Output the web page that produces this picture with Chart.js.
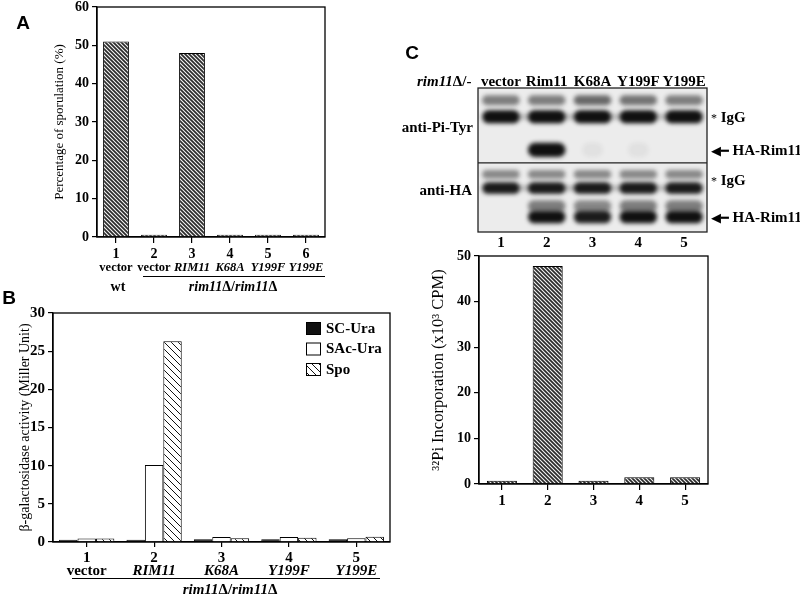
<!DOCTYPE html>
<html><head><meta charset="utf-8">
<script src="https://cdn.jsdelivr.net/npm/chart.js@4.4.1/dist/chart.umd.min.js"></script>
<style>
body{margin:0;width:800px;height:596px;position:relative;background:#fff;overflow:hidden;font-family:"Liberation Serif",serif;}
.c{position:absolute;}
.t{position:absolute;white-space:nowrap;color:#000;font-weight:bold;font-size:15px;line-height:1;transform:translate(-50%,-50%);}
.r{transform:translate(-100%,-50%);}
.l{transform:translate(0,-50%);}
.pl{position:absolute;font-family:"Liberation Sans",Arial,sans-serif;font-weight:bold;font-size:19px;line-height:1;transform:translate(-50%,-50%);}
.ln{position:absolute;height:1px;background:#000;}
i{font-style:italic;}
</style></head><body>

<div class="c" style="left:0;top:-5px;width:340px;height:305px"><canvas id="ca"></canvas></div>
<div class="c" style="left:0;top:290px;width:400px;height:306px"><canvas id="cb"></canvas></div>
<div class="c" style="left:400px;top:60px;width:400px;height:200px"><canvas id="blot"></canvas></div>
<div class="c" style="left:400px;top:240px;width:400px;height:356px"><canvas id="cc"></canvas></div>

<div class="pl" style="left:23px;top:22px">A</div>
<div class="pl" style="left:9px;top:297px">B</div>
<div class="pl" style="left:412px;top:52px">C</div>

<div class="ln" style="left:143px;top:276px;width:182px"></div>
<div class="t" style="left:118px;top:287px;font-size:14px">wt</div>
<div class="t" style="left:233px;top:287px;font-size:14px"><i>rim11</i>Δ/<i>rim11</i>Δ</div>

<div class="ln" style="left:72px;top:578px;width:308px"></div>
<div class="t" style="left:230px;top:589px;font-size:15px"><i>rim11</i>Δ/<i>rim11</i>Δ</div>

<div class="t l" style="left:417px;top:81px"><i>rim11</i>Δ/-</div>
<div class="t r" style="left:473px;top:127px">anti-Pi-Tyr</div>
<div class="t r" style="left:472px;top:190px">anti-HA</div>
<div class="t l" style="left:711px;top:117px"><span style="font-weight:normal;font-size:12px">*</span> IgG</div>
<div class="t l" style="left:711px;top:150px"><span style="font-family:'DejaVu Sans';font-size:13px">◀━</span> HA-Rim11</div>
<div class="t l" style="left:711px;top:180px"><span style="font-weight:normal;font-size:12px">*</span> IgG</div>
<div class="t l" style="left:711px;top:217px"><span style="font-family:'DejaVu Sans';font-size:13px">◀━</span> HA-Rim11</div>

<script>
// ---------- data ----------
const aNums = ["1","2","3","4","5","6"];
const aNames = ["vector","vector","RIM11","K68A","Y199F","Y199E"];
const aItalic = [false,false,true,true,true,true];
const aSporulation = [51, 0.6, 48, 0.6, 0.6, 0.6];
const aTicks = [0,10,20,30,40,50,60];

const bNums = ["1","2","3","4","5"];
const bNames = ["vector","RIM11","K68A","Y199F","Y199E"];
const bItalic = [false,true,true,true,true];
const bSCUra = [0.3, 0.3, 0.35, 0.35, 0.35];
const bSAcUra = [0.45, 10.1, 0.65, 0.65, 0.5];
const bSpo = [0.45, 26.3, 0.5, 0.55, 0.7];
const bTicks = [0,5,10,15,20,25,30];

const cNums = ["1","2","3","4","5"];
const cIncorporation = [0.7, 47.8, 0.7, 1.5, 1.5];
const cTicks = [0,10,20,30,40,50];

const blotLanes = ["vector","Rim11","K68A","Y199F","Y199E"];
const blotNums = ["1","2","3","4","5"];
// band rows: intensity per lane
const tyrIgGLight = [0.5, 0.5, 0.6, 0.55, 0.5];
const tyrIgGHeavy = [1, 1, 1, 1, 1];
const tyrHARim11 = [0, 1, 0.05, 0.05, 0];
const haIgGLight = [0.45, 0.45, 0.45, 0.45, 0.45];
const haIgGHeavy = [0.95, 0.95, 0.95, 0.95, 0.95];
const haRimLight = [0, 0.5, 0.45, 0.5, 0.5];
const haRimHeavy = [0, 1, 0.95, 1, 1];
// migration position of each row (0 = top of blot, 100 = bottom) and thickness
const blotRowPos = [8.5, 20, 43, 60, 69.5, 82, 89.5];
const blotRowH = [7, 9, 10, 6, 8, 8, 9];
const blotDivider = 52;

// ---------- helpers ----------
const SERIF = "'Liberation Serif', serif";
function hatch(bg, fg, s, lw){
  const c = document.createElement('canvas'); c.width = s; c.height = s;
  const x = c.getContext('2d');
  x.fillStyle = bg; x.fillRect(0,0,s,s);
  x.strokeStyle = fg; x.lineWidth = lw;
  x.beginPath();
  x.moveTo(-1,-1); x.lineTo(s+1,s+1);
  x.moveTo(-1,s-1); x.lineTo(1,s+1);
  x.moveTo(s-1,-1); x.lineTo(s+1,1);
  x.stroke();
  return x.createPattern(c,'repeat');
}
const darkHatch = hatch('#2b2b2b','#f4f4f4',4,1.1);
const spoHatch = hatch('#ffffff','#111111',7,1);

const framePlugin = {id:'frame', afterDraw(chart){
  const {ctx, chartArea:a} = chart;
  ctx.save(); ctx.strokeStyle = '#000'; ctx.lineWidth = 1.3;
  ctx.strokeRect(a.left, a.top, a.right-a.left, a.bottom-a.top);
  ctx.restore();
}};

function yAxis(min,max,step,size,width,title,tsize){
  return {
    min, max, ticks:{stepSize:step, color:'#000', padding:3, font:{family:SERIF,size,weight:'bold'}},
    grid:{drawOnChartArea:false, tickLength:5, color:'#000', lineWidth:1.2},
    border:{color:'#000', width:1.3},
    title:{display:true, text:title, color:'#000', padding:0, font:{family:SERIF,size:tsize}},
    afterFit:s=>{s.width = width;}
  };
}
function xNumAxis(labels,size,h,tl,pad){
  return {
    type:'category', labels, offset:true,
    grid:{display:true, drawOnChartArea:false, offset:false, tickLength:tl, color:'#000', lineWidth:1.2},
    border:{color:'#000', width:1.3},
    ticks:{color:'#000', padding:pad, maxRotation:0, minRotation:0, autoSkip:false, font:{family:SERIF,size,weight:'bold'}},
    afterFit:s=>{s.height = h;}
  };
}
function xNameAxis(labels,italic,size,h){
  return {
    type:'category', labels, offset:true, position:'bottom', weight:1,
    grid:{display:false, drawTicks:false, tickLength:0}, border:{display:false},
    ticks:{color:'#000', padding:0, maxRotation:0, minRotation:0, autoSkip:false,
      font:(ctx)=>({family:SERIF,size,weight:'bold',style: italic[ctx.index] ? 'italic':'normal'})},
    afterFit:s=>{s.height = h;}
  };
}

Chart.defaults.animation = false;
Chart.defaults.responsive = true;
Chart.defaults.maintainAspectRatio = false;
Chart.defaults.plugins.legend.display = false;
Chart.defaults.plugins.tooltip.enabled = false;

// ---------- Panel A ----------
new Chart(document.getElementById('ca'), {
  type:'bar',
  data:{labels:aNums, datasets:[{data:aSporulation, backgroundColor:darkHatch, borderColor:'#000', borderWidth:1,
    categoryPercentage:0.8, barPercentage:0.85}]},
  options:{
    layout:{padding:{left:52, top:12, right:15, bottom:23}},
    scales:{
      x: xNumAxis(aNums,14,23,6,3),
      x2: xNameAxis(aNames,aItalic,12.5,17),
      y: yAxis(0,60,10,14,45,'Percentage of sporulation (%)',13)
    }
  },
  plugins:[framePlugin]
});

// ---------- Panel B ----------
const legendPlugin = {id:'inlegend', afterDraw(chart){
  const {ctx, chartArea:a} = chart;
  ctx.save();
  let y = a.top + 15;
  const x = a.right - 84;
  chart.data.datasets.forEach(ds=>{
    ctx.fillStyle = ds.backgroundColor; ctx.fillRect(x, y-6, 15, 13);
    ctx.strokeStyle = '#000'; ctx.lineWidth = 1; ctx.strokeRect(x+0.5, y-5.5, 14, 12);
    ctx.fillStyle = '#000'; ctx.font = "bold 15px 'Liberation Serif'"; ctx.textBaseline = 'middle';
    ctx.fillText(ds.label, x+20, y+1);
    y += 20.5;
  });
  ctx.restore();
}};
new Chart(document.getElementById('cb'), {
  type:'bar',
  data:{labels:bNums, datasets:[
    {label:'SC-Ura', data:bSCUra, backgroundColor:'#111', borderColor:'#000', borderWidth:1, categoryPercentage:0.82, barPercentage:1},
    {label:'SAc-Ura', data:bSAcUra, backgroundColor:'#fff', borderColor:'#000', borderWidth:1, categoryPercentage:0.82, barPercentage:1},
    {label:'Spo', data:bSpo, backgroundColor:spoHatch, borderColor:'#000', borderWidth:1, categoryPercentage:0.82, barPercentage:1}
  ]},
  options:{
    layout:{padding:{left:17, top:23, right:10, bottom:17}},
    scales:{
      x: xNumAxis(bNums,15,20,5,2),
      x2: xNameAxis(bNames,bItalic,15,17),
      y: yAxis(0,30,5,15,36,'β-galactosidase activity (Miller Unit)',14)
    }
  },
  plugins:[framePlugin, legendPlugin]
});

// ---------- Panel C bar ----------
new Chart(document.getElementById('cc'), {
  type:'bar',
  data:{labels:cNums, datasets:[{data:cIncorporation, backgroundColor:darkHatch, borderColor:'#000', borderWidth:1,
    categoryPercentage:0.8, barPercentage:0.82}]},
  options:{
    layout:{padding:{left:29, top:16, right:92, bottom:88}},
    scales:{
      x: xNumAxis(cNums,15,24,6,2),
      y: yAxis(0,50,10,14,50,'³²Pi Incorporation (x10³ CPM)',16.5)
    }
  },
  plugins:[framePlugin]
});

// ---------- Panel C blot ----------
const blotRows = [tyrIgGLight, tyrIgGHeavy, tyrHARim11, haIgGLight, haIgGHeavy, haRimLight, haRimHeavy];
const blotPlugin = {id:'blot',
  beforeDatasetsDraw(chart){
    const {ctx, chartArea:a} = chart;
    ctx.save(); ctx.fillStyle = '#ececec'; ctx.fillRect(a.left,a.top,a.right-a.left,a.bottom-a.top); ctx.restore();
  },
  afterDatasetsDraw(chart){
    const {ctx, chartArea:a, scales} = chart;
    const lane = (a.right-a.left)/blotLanes.length;
    ctx.save();
    ctx.beginPath(); ctx.rect(a.left,a.top,a.right-a.left,a.bottom-a.top); ctx.clip();
    chart.data.datasets.forEach((ds)=>{
      if(!ds.smear) return;
      const y = scales.y.getPixelForValue(ds.pos);
      ctx.filter = 'blur(2px)'; ctx.fillStyle = 'rgba(20,20,20,0.22)';
      ctx.fillRect(a.left+10, y-3, a.right-a.left-20, 6);
    });
    chart.data.datasets.forEach((ds,di)=>{
      const meta = chart.getDatasetMeta(di);
      const h = Math.abs(scales.y.getPixelForValue(ds.pos+ds.h/2)-scales.y.getPixelForValue(ds.pos-ds.h/2));
      meta.data.forEach((pt,i)=>{
        const v = ds.intensity[i]; if(!v) return;
        const w = lane*(v < 0.2 ? 0.45 : 0.82);
        ctx.filter = 'blur(2.2px)';
        ctx.globalAlpha = Math.min(1,v);
        ctx.fillStyle = '#101010';
        ctx.beginPath();
        ctx.roundRect(pt.x-w/2, pt.y-h/2, w, h, h/2);
        ctx.fill();
      });
    });
    ctx.restore();
    ctx.save();
    const yd = scales.y.getPixelForValue(blotDivider);
    ctx.strokeStyle = '#222'; ctx.lineWidth = 1.3;
    ctx.beginPath(); ctx.moveTo(a.left, yd); ctx.lineTo(a.right, yd); ctx.stroke();
    ctx.strokeRect(a.left, a.top, a.right-a.left, a.bottom-a.top);
    ctx.restore();
  }
};
new Chart(document.getElementById('blot'), {
  type:'scatter',
  data:{datasets: blotRows.map((arr,k)=>({
    data: blotLanes.map(l=>({x:l, y:blotRowPos[k]})),
    intensity: arr, pos: blotRowPos[k], h: blotRowH[k], smear: (k===1||k===4),
    pointRadius:0
  }))},
  options:{
    layout:{padding:{left:78, top:0, right:93, bottom:8}},
    scales:{
      x:{type:'category', labels:blotLanes, position:'top', offset:true,
        grid:{display:false, drawTicks:false, tickLength:0}, border:{display:false},
        ticks:{color:'#000', padding:-3, maxRotation:0, minRotation:0, autoSkip:false, font:{family:SERIF,size:15,weight:'bold'}},
        afterFit:s=>{s.height = 28;}},
      x2:{type:'category', labels:blotNums, position:'bottom', offset:true,
        grid:{display:false, drawTicks:false, tickLength:0}, border:{display:false},
        ticks:{color:'#000', padding:2, maxRotation:0, minRotation:0, autoSkip:false, font:{family:SERIF,size:15,weight:'bold'}},
        afterFit:s=>{s.height = 20;}},
      y:{type:'linear', min:0, max:100, reverse:true, display:false}
    }
  },
  plugins:[blotPlugin]
});
</script>
</body></html>
